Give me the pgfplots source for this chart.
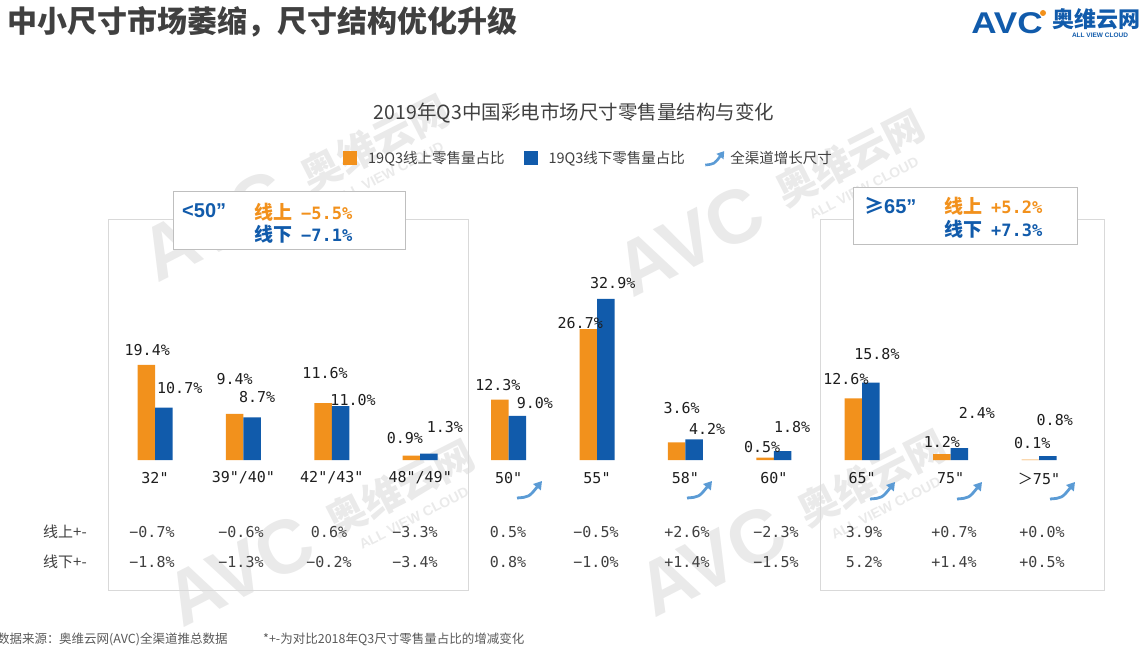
\documentclass[border=0pt]{standalone}
\usepackage{fontspec}
\usepackage{pgfplots}
\pgfplotsset{compat=1.18}
\usepackage{pgfplotstable}
\usetikzlibrary{arrows.meta}
\setmainfont{Noto Sans CJK SC}
\newfontfamily\mono{DejaVu Sans Mono}
\newfontfamily\lat{Liberation Sans}
\newcommand{\fs}[1]{\fontsize{#1}{#1}\selectfont}
\definecolor{orng}{RGB}{242,145,28}
\definecolor{blu}{RGB}{17,91,171}
\definecolor{arr}{RGB}{91,155,213}
\definecolor{gbox}{RGB}{217,217,217}
\definecolor{boxg}{RGB}{191,191,191}
\definecolor{wm}{RGB}{234,234,234}
\definecolor{txt}{RGB}{30,30,30}
\definecolor{ttl}{RGB}{64,64,64}
\definecolor{foot}{RGB}{89,89,89}

\pgfplotstableread{
x y dx dy
0 19.4 1 15
1 9.4 0 35
2 11.6 2 30
3 0.9 -6.5 17.6
4 12.3 -2 14.7
5 26.7 -8 6
6 3.6 5 34
7 0.5 -3 10.5
8 12.6 -7.5 19
9 1.2 0 12
10 0.1 2 16.5
}\online
\pgfplotstableread{
x y dx dy
0 10.7 16 19.6
1 8.7 5 20
2 11.0 12.5 6
3 1.3 16 26.6
4 9.0 17.6 13
5 32.9 7 15.8
6 4.2 13 10.4
7 1.8 9.5 24
8 15.8 6 28.6
9 2.4 17.6 35
10 0.8 7 36
}\offline

\newcommand{\wmk}[2]{%
  \node[rotate=27, text=wm, font=\lat\bfseries\fs{76}, inner sep=0] at (#1,#2) {AVC};
  \node[rotate=27, text=wm, font=\bfseries\fs{40}, inner sep=0] at ({#1+160},{#2-82}) {奥维云网};
  \node[rotate=27, text=wm, font=\lat\bfseries\fs{14}, inner sep=0] at ({#1+174},{#2-52}) {ALL VIEW CLOUD};
}
\newcommand{\swoosh}[2]{%
  \draw[arr, line width=2.8pt, -{Triangle[length=8pt,width=9.5pt]}] (#1,#2) .. controls ({#1+12},{#2-1}) .. ({#1+25},{#2-17});
}

\begin{document}
\begin{tikzpicture}
\path[use as bounding box] (0,0) rectangle (1147pt,649pt);
\begin{scope}[yshift=649pt, x=1pt, y=-1pt]
  \wmk{215}{225}
  \wmk{690}{240}
  \wmk{240}{570}
  \wmk{712}{560}
  \draw[gbox, line width=1pt] (108,219) rectangle (468,590);
  \draw[gbox, line width=1pt] (820,219) rectangle (1104,590);
\end{scope}

\begin{axis}[
  at={(0pt,0pt)}, anchor=south west,
  scale only axis, width=1147pt, height=649pt,
  xmin=-1.75339, xmax=11.22172, ymin=-38.5714, ymax=93.8776,
  hide axis, clip=false,
  ybar=0pt, bar width=17.5pt,
  /pgf/number format/assume math mode=true,
  nodes near coords={\pgfmathprintnumber[fixed,fixed zerofill,precision=1]{\pgfplotspointmeta}\%},
  visualization depends on={\thisrow{dx} \as \dx},
  visualization depends on={\thisrow{dy} \as \dy},
  every node near coord/.append style={anchor=center, xshift=\dx pt, yshift=\dy pt, font=\mono\fs{15}, text=txt, inner sep=0pt},
  legend columns=3,
  legend style={at={(axis description cs:0.2990,0.7565)}, anchor=west, draw=none, fill=none, inner sep=0pt, font=\fs{14.5}, text=ttl,
    /tikz/every even column/.append style={column sep=17pt}},
]
\addplot[fill=orng, draw=none, legend image code/.code={\path[draw=none,fill=none] (0pt,-7pt) rectangle (23pt,7pt);\fill[orng] (0pt,-7pt) rectangle (14pt,7pt);}] table[x=x,y=y] {\online};
\addlegendentry{19Q3线上零售量占比}
\addplot[fill=blu, draw=none, legend image code/.code={\path[draw=none,fill=none] (0pt,-7pt) rectangle (23pt,7pt);\fill[blu] (0pt,-7pt) rectangle (14pt,7pt);}] table[x=x,y=y] {\offline};
\addlegendentry{19Q3线下零售量占比}
\addlegendimage{legend image code/.code={\path[draw=none,fill=none] (0pt,-7pt) rectangle (23pt,7pt);\draw[arr, line width=2.6pt, -{Triangle[length=7pt,width=8.5pt]}] (0pt,-7pt) .. controls (9pt,-6pt) .. (19pt,7pt);}}
\addlegendentry{全渠道增长尺寸}
\end{axis}

\begin{scope}[yshift=649pt, x=1pt, y=-1pt]
  % title and logo
  \node[anchor=west, inner sep=0, text=ttl, font=\bfseries\fs{30}] at (7,22) {中小尺寸市场萎缩，尺寸结构优化升级};
  \node[anchor=west, inner sep=0, text=blu, font=\lat\bfseries\fs{30}, xscale=1.17] at (971,23) {AVC};
  \fill[orng] (1043,13) circle (3);
  \node[anchor=west, inner sep=0, text=blu, font=\bfseries\fs{22}] at (1052,19) {奥维云网};
  \node[inner sep=0, text=blu, font=\lat\bfseries\fs{6.5}] at (1100,35) {ALL VIEW CLOUD};
  % chart title
  \node[inner sep=0, text=ttl, font=\fs{19.5}] at (574,113) {2019年Q3中国彩电市场尺寸零售量结构与变化};
  % info boxes
  \draw[boxg, fill=white, line width=0.8pt] (173,191) rectangle (405,249);
  \node[anchor=west, inner sep=0, text=blu, font=\lat\bfseries\fs{20}] at (182,211) {<50”};
  \node[anchor=west, inner sep=0, text=orng] at (254,212) {{\bfseries\fs{19}线上}\hspace{9pt}{\mono\bfseries\fs{17}−5.5\%}};
  \node[anchor=west, inner sep=0, text=blu] at (254,234) {{\bfseries\fs{19}线下}\hspace{9pt}{\mono\bfseries\fs{17}−7.1\%}};
  \draw[boxg, fill=white, line width=0.8pt] (853,187) rectangle (1077,244);
  \node[anchor=west, inner sep=0, text=blu] at (864,206) {{\bfseries\fs{20}≥}{\lat\bfseries\fs{20}65”}};
  \node[anchor=west, inner sep=0, text=orng] at (944,206) {{\bfseries\fs{19}线上}\hspace{9pt}{\mono\bfseries\fs{17}+5.2\%}};
  \node[anchor=west, inner sep=0, text=blu] at (944,229) {{\bfseries\fs{19}线下}\hspace{9pt}{\mono\bfseries\fs{17}+7.3\%}};
  % category labels
  \foreach \cx/\lab in {155/{32"}, 243.4/{39"/40"}, 331.8/{42"/43"}, 420.2/{48"/49"}, 508.6/{50"}, 597/{55"}, 685.4/{58"}, 773.8/{60"}, 862.2/{65"}, 950.6/{75"}}
    \node[inner sep=0, text=txt, font=\mono\fs{15}] at (\cx,478) {\lab};
  \node[inner sep=0, text=txt] at (1039,479) {{\fs{15}＞}{\mono\fs{15}75"}};
  % arrows
  \swoosh{517}{498}
  \swoosh{687}{498}
  \swoosh{870}{499}
  \swoosh{957}{499}
  \swoosh{1050}{499}
  % change table
  \node[inner sep=0, text=ttl, font=\fs{15}] at (65,532) {线上+-};
  \node[inner sep=0, text=ttl, font=\fs{15}] at (65,562) {线下+-};
  \foreach \cx/\a/\b in {152/−0.7\%/−1.8\%, 241/−0.6\%/−1.3\%, 329/0.6\%/−0.2\%, 415/−3.3\%/−3.4\%, 508/0.5\%/0.8\%, 596/−0.5\%/−1.0\%, 687/+2.6\%/+1.4\%, 776/−2.3\%/−1.5\%, 864/3.9\%/5.2\%, 954/+0.7\%/+1.4\%, 1042/+0.0\%/+0.5\%} {
    \node[inner sep=0, text=ttl, font=\mono\fs{15}] at (\cx,532) {\a};
    \node[inner sep=0, text=ttl, font=\mono\fs{15}] at (\cx,562) {\b};
  }
  % footnote
  \node[anchor=west, inner sep=0, text=foot, font=\fs{12.5}] at (-3,639) {数据来源：};
  \node[anchor=west, inner sep=0, text=foot, font=\fs{12.5}] at (59,639) {奥维云网(AVC)全渠道推总数据};
  \node[anchor=west, inner sep=0, text=foot, font=\fs{12.5}] at (263,639) {*+-为对比2018年Q3尺寸零售量占比的增减变化};
\end{scope}
\end{tikzpicture}
\end{document}
